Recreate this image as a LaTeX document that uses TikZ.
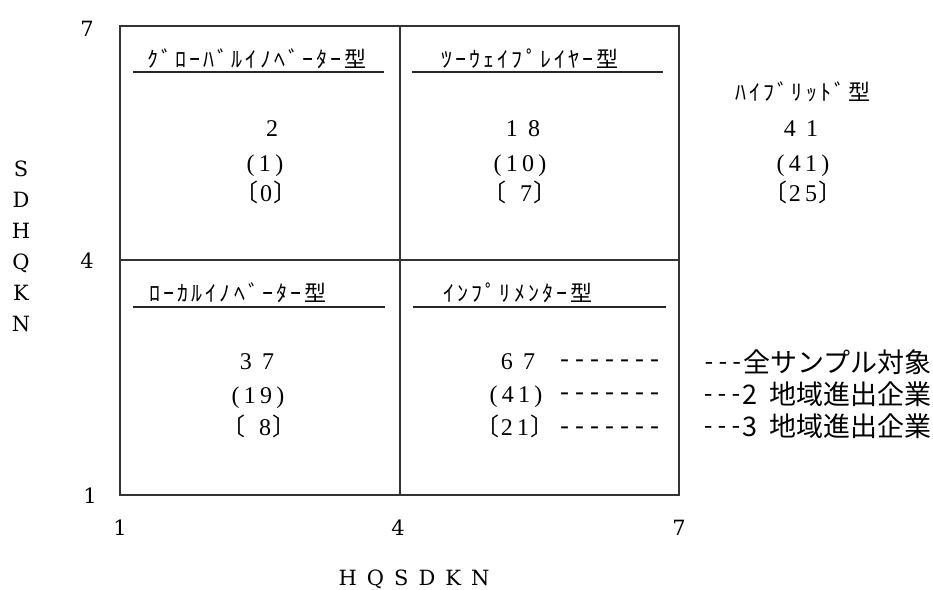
\documentclass[tikz,border=0pt]{standalone}
\usepackage{fontspec}
\newfontfamily\jpfont{Noto Sans CJK JP}
\newfontfamily\kanafont[LetterSpace=14]{Noto Sans CJK JP}
\newfontfamily\numfont[LetterSpace=18]{Liberation Serif}
\newfontfamily\axfont{DejaVu Serif}
\newfontfamily\dashfnt{Liberation Mono}
\newcommand\hy{-\kern0pt}
\newcommand\lbr{{\jpfont\kern-0.55em〔\kern0.05em}}
\newcommand\rbr{{\jpfont\kern0.05em〕\kern-0.55em}}
\begin{document}
\begin{tikzpicture}[x=1pt,y=-1pt,
  frame/.style={line width=1.2pt,draw=black!80},
  uline/.style={line width=1.2pt,draw=black!85},
  title/.style={font=\kanafont\fontsize{22}{22}\selectfont,anchor=base,inner sep=0pt},
  num/.style={font=\numfont\fontsize{24}{24}\selectfont,anchor=base,inner sep=0pt},
  axl/.style={font=\axfont\fontsize{21}{21}\selectfont,anchor=base,inner sep=0pt},
  dashes/.style={font=\dashfnt\fontsize{25}{25}\selectfont,anchor=base west,inner sep=0pt},
  legend/.style={font=\jpfont\fontsize{27}{27}\selectfont,anchor=base east,inner sep=0pt}]
\useasboundingbox (0,0) rectangle (933,589);
% frame
\coordinate (TL) at (120,26);
\coordinate (TM) at (400,26);
\coordinate (TR) at (679,26);
\coordinate (ML) at (120,260);
\coordinate (MR) at (679,260);
\coordinate (BM) at (400,495);
\coordinate (BR) at (679,495);
\draw[frame] (TL) rectangle (BR);
\draw[frame] (TM) -- (BM);
\draw[frame] (ML) -- (MR);
% titles
\node[title] (t1) at (257,67) {ｸﾞﾛｰﾊﾞﾙｲﾉﾍﾞｰﾀｰ型};
\node[title] (t2) at (530,67) {ﾂｰｳｪｲﾌﾟﾚｲﾔｰ型};
\node[title] (t3) at (238,301) {ﾛｰｶﾙｲﾉﾍﾞｰﾀｰ型};
\node[title] (t4) at (518,301) {ｲﾝﾌﾟﾘﾒﾝﾀｰ型};
\node[title] (t5) at (803,100) {ﾊｲﾌﾞﾘｯﾄﾞ型};
\coordinate (u1a) at (133,72); \coordinate (u1b) at (384,72);
\coordinate (u2a) at (412,72); \coordinate (u2b) at (663,72);
\coordinate (u3a) at (133,307); \coordinate (u3b) at (385,307);
\coordinate (u4a) at (413,307); \coordinate (u4b) at (666,307);
\draw[uline] (u1a) -- (u1b);
\draw[uline] (u2a) -- (u2b);
\draw[uline] (u3a) -- (u3b);
\draw[uline] (u4a) -- (u4b);
% numbers
\node[num] (a1) at (272,136) {2};
\node[num] (a2) at (265,171) {(1)};
\node[num] (a3) at (266,201) {\lbr 0\rbr};
\node[num] (b1) at (523,136) {1 8};
\node[num] (b2) at (520,171) {(10)};
\node[num] (b3) at (520,201) {\lbr\hphantom{0}7\rbr};
\node[num] (c1) at (257,369) {3 7};
\node[num] (c2) at (258,403) {(19)};
\node[num] (c3) at (259,435) {\lbr\hphantom{0}8\rbr};
\node[num] (d1) at (518,369) {6 7};
\node[num] (d2) at (516,402) {(41)};
\node[num] (d3) at (515,435) {\lbr 21\rbr};
\node[num] (h1) at (801,136) {4 1};
\node[num] (h2) at (803,171) {(41)};
\node[num] (h3) at (803,201) {\lbr 25\rbr};
% dashes and legend
\node[dashes] (e1) at (557,367) {\hy\hy\hy\hy\hy\hy\hy};
\node[dashes] (e2) at (557,400) {\hy\hy\hy\hy\hy\hy\hy};
\node[dashes] (e3) at (557,434) {\hy\hy\hy\hy\hy\hy\hy};
\node[legend] (l1) at (932,372) {{\dashfnt\fontsize{23}{23}\selectfont\raisebox{3pt}{\hy\hy\hy}}全サンプル対象};
\node[legend] (l2) at (932,404) {{\dashfnt\fontsize{23}{23}\selectfont\raisebox{3pt}{\hy\hy\hy}}\makebox[27pt][l]{2}地域進出企業};
\node[legend] (l3) at (932,436) {{\dashfnt\fontsize{23}{23}\selectfont\raisebox{3pt}{\hy\hy\hy}}\makebox[27pt][l]{3}地域進出企業};
% axis labels
\node[axl] (y7) at (87,36) {7};
\node[axl] (y4) at (87,268) {4};
\node[axl] (y1) at (90,503) {1};
\node[axl] (x1) at (120,535) {1};
\node[axl] (x4) at (398,535) {4};
\node[axl] (x7) at (679,535) {7};
\foreach \l [count=\i] in {S,D,H,Q,K,N}
  \node[axl] (v\l) at (21,{176+31*(\i-1)}) {\l};
\node[axl] (xt) at (414,585) {\spaceskip=10pt H Q S D K N};
\end{tikzpicture}
\end{document}
